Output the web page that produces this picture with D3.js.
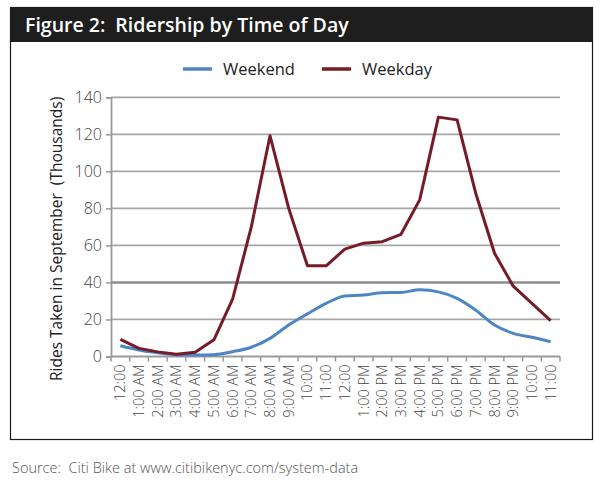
<!DOCTYPE html>
<html>
<head>
<meta charset="utf-8">
<script src="https://d3js.org/d3.v7.min.js"></script>
<style>
  body { margin: 0; background: #fff; }
  svg { display: block; }
</style>
</head>
<body>
<div id="chart"></div>
<script>
// Hour labels along the x axis
const hours = ['12:00', '1:00 AM', '2:00 AM', '3:00 AM', '4:00 AM', '5:00 AM', '6:00 AM',
    '7:00 AM', '8:00 AM', '9:00 AM', '10:00', '11:00', '12:00', '1:00 PM', '2:00 PM',
    '3:00 PM', '4:00 PM', '5:00 PM', '6:00 PM', '7:00 PM', '8:00 PM', '9:00 PM', '10:00', '11:00'];

// Rides in thousands
const weekend = [5.8, 3.5, 2, 1, 0.8, 1, 2.6, 5, 9.8, 17, 23, 28.7, 32.7, 33.2, 34.5, 34.6,
    36, 34.9, 31.4, 25, 17, 12.5, 10.4, 8];
const weekday = [9.3, 4.4, 2.5, 1.2, 2.3, 9, 31, 70, 119.2, 80, 49, 49, 58, 61.2, 62, 66,
    84.6, 129.3, 127.8, 88, 55.8, 38, 28.7, 19.4];

const yTicks = [0, 20, 40, 60, 80, 100, 120, 140];

const width = 602, height = 483;
const plot = { left: 111, right: 560, top: 97.3, bottom: 356.5 };

const svg = d3.select('#chart')
    .append('svg')
    .attr('width', width)
    .attr('height', height)
    .style('font-family', '"Open Sans", "Noto Sans", sans-serif');

// Frame and header bar
svg.append('rect')
    .attr('x', 10.5).attr('y', 7.5)
    .attr('width', 582).attr('height', 432)
    .attr('fill', '#fff')
    .attr('stroke', '#1a1a1a')
    .attr('stroke-width', 1.2);

svg.append('rect')
    .attr('x', 10).attr('y', 7)
    .attr('width', 583).attr('height', 35)
    .attr('fill', '#1e1e1e');

svg.append('text')
    .attr('x', 25).attr('y', 31.5)
    .attr('fill', '#fff')
    .style('font-size', '19.5px')
    .style('font-weight', '600')
    .style('white-space', 'pre')
    .text('Figure 2:  Ridership by Time of Day');

// Scales
const x = d3.scaleBand()
    .domain(d3.range(hours.length))
    .range([plot.left, plot.right]);

const y = d3.scaleLinear()
    .domain([0, 140])
    .range([plot.bottom, plot.top]);

// Gridlines
svg.append('g')
    .selectAll('line')
    .data(yTicks.filter(d => d > 0))
    .join('line')
    .attr('x1', plot.left).attr('x2', plot.right)
    .attr('y1', d => y(d)).attr('y2', d => y(d))
    .attr('stroke', d => d === 40 ? '#8c8c8c' : '#a6a6a6')
    .attr('stroke-width', d => d === 40 ? 2.5 : 1.8);

// Y axis
const yAxis = svg.append('g')
    .attr('transform', `translate(${plot.left},0)`)
    .call(d3.axisLeft(y).tickValues(yTicks).tickSize(5).tickPadding(4));
yAxis.select('.domain').attr('stroke', '#999').attr('stroke-width', 1.8);
yAxis.selectAll('.tick line').attr('stroke', '#999').attr('stroke-width', 1.5);
yAxis.selectAll('.tick text')
    .attr('fill', '#444')
    .style('font-size', '16px')
    .style('font-family', '"Open Sans", "Noto Sans", sans-serif')
    .style('font-weight', '300');

// X axis: ticks at band boundaries
const xAxis = svg.append('g');
xAxis.append('line')
    .attr('x1', plot.left).attr('x2', plot.right)
    .attr('y1', plot.bottom).attr('y2', plot.bottom)
    .attr('stroke', '#999').attr('stroke-width', 1.8);
xAxis.selectAll('line.tick')
    .data(d3.range(hours.length + 1))
    .join('line')
    .attr('class', 'tick')
    .attr('x1', i => plot.left + i * x.step())
    .attr('x2', i => plot.left + i * x.step())
    .attr('y1', plot.bottom)
    .attr('y2', plot.bottom + 5)
    .attr('stroke', '#999').attr('stroke-width', 1.5);
xAxis.selectAll('text')
    .data(hours)
    .join('text')
    .attr('transform', (d, i) =>
        `translate(${x(i) + x.bandwidth() / 2 + 5},${plot.bottom + 8}) rotate(-90)`)
    .attr('text-anchor', 'end')
    .attr('fill', '#444')
    .style('font-size', '14.5px')
    .style('font-weight', '300')
    .text(d => d);

// Y axis title
svg.append('text')
    .attr('transform', `translate(62,${(plot.top + plot.bottom) / 2 + 12}) rotate(-90)`)
    .attr('text-anchor', 'middle')
    .attr('fill', '#222')
    .style('font-size', '15.5px')
    .style('white-space', 'pre')
    .text('Rides Taken in September  (Thousands)');

// Lines
const cx = i => x(i) + x.bandwidth() / 2;

svg.append('path')
    .datum(weekend)
    .attr('fill', 'none')
    .attr('stroke', '#4e86c5')
    .attr('stroke-width', 3)
    .attr('stroke-linejoin', 'round')
    .attr('d', d3.line().x((d, i) => cx(i)).y(d => y(d)).curve(d3.curveMonotoneX));

svg.append('path')
    .datum(weekday)
    .attr('fill', 'none')
    .attr('stroke', '#761b27')
    .attr('stroke-width', 3)
    .attr('stroke-linejoin', 'round')
    .attr('d', d3.line().x((d, i) => cx(i)).y(d => y(d)));

// Legend
const legend = [
    { name: 'Weekend', color: '#4e86c5', x: 183 },
    { name: 'Weekday', color: '#761b27', x: 322 }
];
const lg = svg.append('g').selectAll('g')
    .data(legend)
    .join('g')
    .attr('transform', d => `translate(${d.x},69)`);
lg.append('line')
    .attr('x1', 0).attr('x2', 29)
    .attr('stroke', d => d.color)
    .attr('stroke-width', 3.5);
lg.append('text')
    .attr('x', 40).attr('y', 6)
    .attr('fill', '#222')
    .style('font-size', '16.5px')
    .text(d => d.name);

// Source line
svg.append('text')
    .attr('x', 12).attr('y', 473)
    .attr('fill', '#555')
    .style('font-size', '14.5px')
    .style('font-weight', '300')
    .style('white-space', 'pre')
    .text('Source:  Citi Bike at www.citibikenyc.com/system-data');
</script>
</body>
</html>
